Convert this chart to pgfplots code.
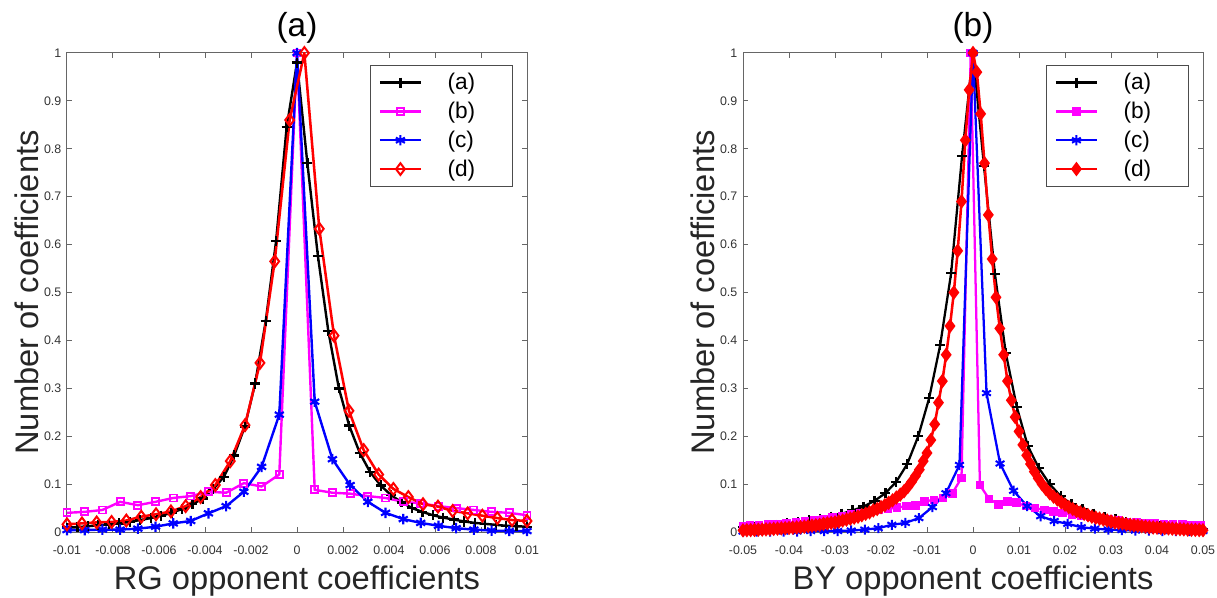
\documentclass[border=0pt]{standalone}
\usepackage{fontspec}
\setmainfont{Liberation Sans}
\usepackage{pgfplots}
\pgfplotsset{compat=1.18}
\definecolor{cBlack}{RGB}{0,0,0}
\definecolor{cMag}{RGB}{255,0,255}
\definecolor{cBlue}{RGB}{0,0,255}
\definecolor{cRed}{RGB}{255,0,0}
\pgfplotsset{
  panel/.style={
    scale only axis, width=345pt, height=359.25pt, anchor=south west,
    ymin=0, ymax=1,
    ytick={0,0.1,0.2,0.3,0.4,0.5,0.6,0.7,0.8,0.9,1},
    yticklabels={0,0.1,0.2,0.3,0.4,0.5,0.6,0.7,0.8,0.9,1},
    scaled x ticks=false, scaled y ticks=false,
    axis line style={black!60, line width=0.75pt},
    tick style={black!60, line width=0.75pt},
    major tick length=3.5pt, tick align=inside,
    ticklabel style={font=\fontsize{9.3}{9.3}\selectfont, text=black!80},
    xticklabel style={yshift=-7pt},
    yticklabel style={xshift=-0.75pt},
    every axis title/.style={at={(0.5,1.0334)}, anchor=base, font=\fontsize{25}{25}\selectfont, text=black},
    every axis x label/.style={at={(0.5,-0.119)}, anchor=base, font=\fontsize{24.5}{24.5}\selectfont, text=black!85},
    every axis y label/.style={at={(-0.063,0.5)}, rotate=90, anchor=base, font=\fontsize{24.5}{24.5}\selectfont, text=black!85},
    legend cell align=left,
    legend image code/.code={\draw[mark repeat=2,mark phase=2,#1] plot coordinates {(0cm,0cm) (0.542cm,0cm) (1.084cm,0cm)};},
    legend style={at={(0.9696,0.975)}, anchor=north east, draw=black!70, line width=0.6pt, fill=white,
      font=\fontsize{17}{17}\selectfont, inner xsep=6pt, inner ysep=4pt, row sep=3.8pt,
      /tikz/every odd column/.append style={column sep=17pt}},
  }
}
\begin{document}
\begin{tikzpicture}
\path[use as bounding box] (0,0) rectangle (912.75pt,447.75pt);
% ---------------- left panel ----------------
\begin{axis}[panel, at={(50.25pt,48.75pt)},
  xmin=-0.01, xmax=0.01,
  xtick={-0.01,-0.008,-0.006,-0.004,-0.002,0,0.002,0.004,0.006,0.008,0.01},
  xticklabels={-0.01,-0.008,-0.006,-0.004,-0.002,0,0.002,0.004,0.006,0.008,0.01},
  title={(a)}, xlabel={RG opponent coefficients}, ylabel={Number of coefficients}]
\addplot[cBlack, line width=1.8pt, mark=+, mark size=3.8pt] coordinates {
(-0.0100,0.009) (-0.00955,0.010) (-0.00909,0.012) (-0.00864,0.014) (-0.00818,0.016)
(-0.00773,0.018) (-0.00727,0.021) (-0.00682,0.025) (-0.00636,0.029) (-0.00591,0.034)
(-0.00545,0.040) (-0.00500,0.048) (-0.00455,0.058) (-0.00409,0.070) (-0.00364,0.090)
(-0.00318,0.115) (-0.00273,0.160) (-0.00227,0.220) (-0.00182,0.310) (-0.00136,0.440)
(-0.00091,0.607) (-0.00045,0.845) (0,0.98) (0.00045,0.77) (0.00091,0.576)
(0.00136,0.42) (0.00182,0.30) (0.00227,0.222) (0.00273,0.165) (0.00318,0.125)
(0.00364,0.097) (0.00409,0.077) (0.00455,0.062) (0.00500,0.050) (0.00545,0.042)
(0.00591,0.035) (0.00636,0.030) (0.00682,0.026) (0.00727,0.022) (0.00773,0.019)
(0.00818,0.017) (0.00864,0.015) (0.00909,0.013) (0.00955,0.012) (0.0100,0.011)};
\addlegendentry{(a)\hspace*{20pt}}
\addplot[cMag, line width=1.8pt, mark=square, mark size=2.6pt, mark options={line width=1.4pt}] coordinates {
(-0.0100,0.040) (-0.00923,0.042) (-0.00846,0.046) (-0.00769,0.063) (-0.00692,0.056)
(-0.00615,0.063) (-0.00538,0.071) (-0.00462,0.075) (-0.00385,0.084) (-0.00308,0.082)
(-0.00231,0.102) (-0.00154,0.095) (-0.00077,0.120) (0,1.0) (0.00077,0.088)
(0.00154,0.082) (0.00231,0.080) (0.00308,0.075) (0.00385,0.071) (0.00462,0.063)
(0.00538,0.060) (0.00615,0.054) (0.00692,0.050) (0.00769,0.046) (0.00846,0.042)
(0.00923,0.040) (0.0100,0.035)};
\addlegendentry{(b)\hspace*{20pt}}
\addplot[cBlue, line width=1.8pt, mark=asterisk, mark size=3.9pt, mark options={line width=1.6pt}] coordinates {
(-0.0100,0.004) (-0.00923,0.004) (-0.00846,0.005) (-0.00769,0.005) (-0.00692,0.007)
(-0.00615,0.011) (-0.00538,0.018) (-0.00462,0.023) (-0.00385,0.039) (-0.00308,0.054)
(-0.00231,0.084) (-0.00154,0.136) (-0.00077,0.245) (0,1.0) (0.00077,0.272)
(0.00154,0.152) (0.00231,0.098) (0.00308,0.063) (0.00385,0.040) (0.00462,0.027)
(0.00538,0.019) (0.00615,0.013) (0.00692,0.008) (0.00769,0.005) (0.00846,0.003)
(0.00923,0.002) (0.0100,0.002)};
\addlegendentry{(c)\hspace*{20pt}}
\addplot[cRed, line width=1.9pt, mark=diamond, mark size=4.4pt, mark options={line width=1.5pt}] coordinates {
(-0.0100,0.016) (-0.00935,0.018) (-0.00871,0.020) (-0.00806,0.021) (-0.00742,0.024)
(-0.00677,0.032) (-0.00613,0.037) (-0.00548,0.043) (-0.00484,0.054) (-0.00419,0.073)
(-0.00355,0.098) (-0.00290,0.148) (-0.00226,0.223) (-0.00161,0.353) (-0.00097,0.565)
(-0.00032,0.86) (0.00032,1.0) (0.00097,0.633) (0.00161,0.41) (0.00226,0.253)
(0.00290,0.171) (0.00355,0.120) (0.00419,0.090) (0.00484,0.073) (0.00548,0.058)
(0.00613,0.053) (0.00677,0.044) (0.00742,0.039) (0.00806,0.034) (0.00871,0.029)
(0.00935,0.025) (0.0100,0.023)};
\addlegendentry{(d)\hspace*{20pt}}
\end{axis}
% ---------------- right panel ----------------
\begin{axis}[panel, at={(557.25pt,48.75pt)},
  xmin=-0.05, xmax=0.05,
  xtick={-0.05,-0.04,-0.03,-0.02,-0.01,0,0.01,0.02,0.03,0.04,0.05},
  xticklabels={-0.05,-0.04,-0.03,-0.02,-0.01,0,0.01,0.02,0.03,0.04,0.05},
  title={(b)}, xlabel={BY opponent coefficients}, ylabel={Number of coefficients}]
\addplot[cBlack, line width=1.7pt, mark=+, mark size=3.8pt] coordinates {
(-0.05,0.010) (-0.04762,0.011) (-0.04524,0.013) (-0.04286,0.015) (-0.04048,0.018)
(-0.0381,0.020) (-0.03571,0.024) (-0.03333,0.028) (-0.03095,0.032) (-0.02857,0.038)
(-0.02619,0.045) (-0.02381,0.053) (-0.02143,0.065) (-0.01905,0.081) (-0.01667,0.105)
(-0.01429,0.142) (-0.0119,0.20) (-0.00952,0.28) (-0.00714,0.39) (-0.00476,0.54)
(-0.00238,0.785) (0,1.0) (0.00238,0.764) (0.00476,0.539) (0.00714,0.373)
(0.00952,0.261) (0.0119,0.18) (0.01429,0.134) (0.01667,0.10) (0.01905,0.075)
(0.02143,0.058) (0.02381,0.047) (0.02619,0.038) (0.02857,0.031) (0.03095,0.026)
(0.03333,0.021) (0.03571,0.018) (0.0381,0.015) (0.04048,0.012) (0.04286,0.010)
(0.04524,0.009) (0.04762,0.007) (0.05,0.006)};
\addlegendentry{(a)\hspace*{20pt}}
\addplot[cMag, line width=1.7pt, mark=square*, mark size=2.4pt] coordinates {
(-0.05,0.012) (-0.0485,0.013) (-0.0465,0.014) (-0.0445,0.015) (-0.0425,0.017)
(-0.0405,0.019) (-0.0385,0.021) (-0.0365,0.023) (-0.0345,0.025) (-0.0325,0.027)
(-0.0305,0.030) (-0.0285,0.033) (-0.0265,0.036) (-0.0245,0.039) (-0.0225,0.042)
(-0.0205,0.046) (-0.0185,0.048) (-0.0165,0.051) (-0.0145,0.054) (-0.0125,0.056)
(-0.0105,0.064) (-0.0085,0.067) (-0.0065,0.071) (-0.0045,0.081) (-0.0025,0.113)
(-0.0005,1.0) (0.0015,0.098) (0.0035,0.069) (0.0055,0.058) (0.0075,0.063)
(0.0095,0.061) (0.0115,0.054) (0.0135,0.050) (0.0155,0.046) (0.0175,0.043)
(0.0195,0.040) (0.0215,0.037) (0.0235,0.034) (0.0255,0.031) (0.0275,0.029)
(0.0295,0.027) (0.0315,0.024) (0.0335,0.021) (0.0355,0.020) (0.0375,0.019)
(0.0395,0.018) (0.0415,0.017) (0.0435,0.016) (0.0455,0.015) (0.0475,0.014)
(0.0495,0.013)};
\addlegendentry{(b)\hspace*{20pt}}
\addplot[cBlue, line width=1.7pt, mark=asterisk, mark size=3.8pt, mark options={line width=1.5pt}] coordinates {
(-0.05,0.001) (-0.04706,0.001) (-0.04412,0.001) (-0.04118,0.001) (-0.03824,0.001)
(-0.03529,0.002) (-0.03235,0.002) (-0.02941,0.002) (-0.02647,0.003) (-0.02353,0.005)
(-0.02059,0.008) (-0.01765,0.015) (-0.01471,0.019) (-0.01176,0.029) (-0.00882,0.052)
(-0.00588,0.081) (-0.00294,0.14) (0,1.0)};
\addplot[cBlue, line width=1.7pt, mark=asterisk, mark size=3.8pt, mark options={line width=1.5pt}, forget plot] coordinates {
(0,1.0) (0.00294,0.29) (0.00588,0.143) (0.00882,0.086) (0.01176,0.054)
(0.01471,0.033) (0.01765,0.023) (0.02059,0.017) (0.02353,0.010) (0.02647,0.007)
(0.02941,0.005) (0.03235,0.004) (0.03529,0.003) (0.03824,0.003) (0.04118,0.002)
(0.04412,0.002) (0.04706,0.002) (0.05,0.002)};
\addlegendentry{(c)\hspace*{20pt}}
\addplot[cRed, line width=1.9pt, mark=diamond*, mark size=3.9pt] coordinates {
(-0.05,0.0035) (-0.04917,0.0038) (-0.04833,0.0041) (-0.0475,0.0044) (-0.04667,0.0047)
(-0.04583,0.005) (-0.045,0.0055) (-0.04417,0.006) (-0.04333,0.0065) (-0.0425,0.007)
(-0.04167,0.0075) (-0.04083,0.008) (-0.04,0.0085) (-0.03917,0.009) (-0.03833,0.0095)
(-0.0375,0.010) (-0.03667,0.011) (-0.03583,0.012) (-0.035,0.013) (-0.03417,0.014)
(-0.03333,0.015) (-0.0325,0.017) (-0.03167,0.018) (-0.03083,0.019) (-0.03,0.020)
(-0.02917,0.022) (-0.02833,0.024) (-0.0275,0.026) (-0.02667,0.028) (-0.02583,0.030)
(-0.025,0.032) (-0.02417,0.035) (-0.02333,0.038) (-0.0225,0.041) (-0.02167,0.045)
(-0.02083,0.048) (-0.02,0.052) (-0.01917,0.056) (-0.01833,0.061) (-0.0175,0.066)
(-0.01667,0.072) (-0.01583,0.078) (-0.015,0.085) (-0.01417,0.094) (-0.01333,0.105)
(-0.0125,0.117) (-0.01167,0.13) (-0.01083,0.148) (-0.01,0.165) (-0.00917,0.192)
(-0.00833,0.225) (-0.0075,0.27) (-0.00667,0.315) (-0.00583,0.37) (-0.005,0.43)
(-0.00417,0.5) (-0.00333,0.587) (-0.0025,0.69) (-0.00167,0.818) (-0.00083,0.923)
(0,1.0) (0.00083,0.96) (0.00167,0.873) (0.0025,0.77) (0.00333,0.662)
(0.00417,0.57) (0.005,0.49) (0.00583,0.425) (0.00667,0.37) (0.0075,0.315)
(0.00833,0.275) (0.00917,0.24) (0.01,0.21) (0.01083,0.182) (0.01167,0.16)
(0.0125,0.142) (0.01333,0.126) (0.01417,0.112) (0.015,0.10) (0.01583,0.09)
(0.01667,0.081) (0.0175,0.074) (0.01833,0.068) (0.01917,0.062) (0.02,0.057)
(0.02083,0.052) (0.02167,0.048) (0.0225,0.044) (0.02333,0.041) (0.02417,0.038)
(0.025,0.035) (0.02583,0.032) (0.02667,0.030) (0.0275,0.028) (0.02833,0.026)
(0.02917,0.024) (0.03,0.022) (0.03083,0.020) (0.03167,0.019) (0.0325,0.018)
(0.03333,0.016) (0.03417,0.015) (0.035,0.014) (0.03583,0.013) (0.03667,0.012)
(0.0375,0.011) (0.03833,0.010) (0.03917,0.0095) (0.04,0.009) (0.04083,0.0085)
(0.04167,0.008) (0.0425,0.0075) (0.04333,0.007) (0.04417,0.0065) (0.045,0.006)
(0.04583,0.0055) (0.04667,0.005) (0.0475,0.0047) (0.04833,0.0044) (0.04917,0.0041)
(0.05,0.0038)};
\addlegendentry{(d)\hspace*{20pt}}
\end{axis}
\end{tikzpicture}
\end{document}
